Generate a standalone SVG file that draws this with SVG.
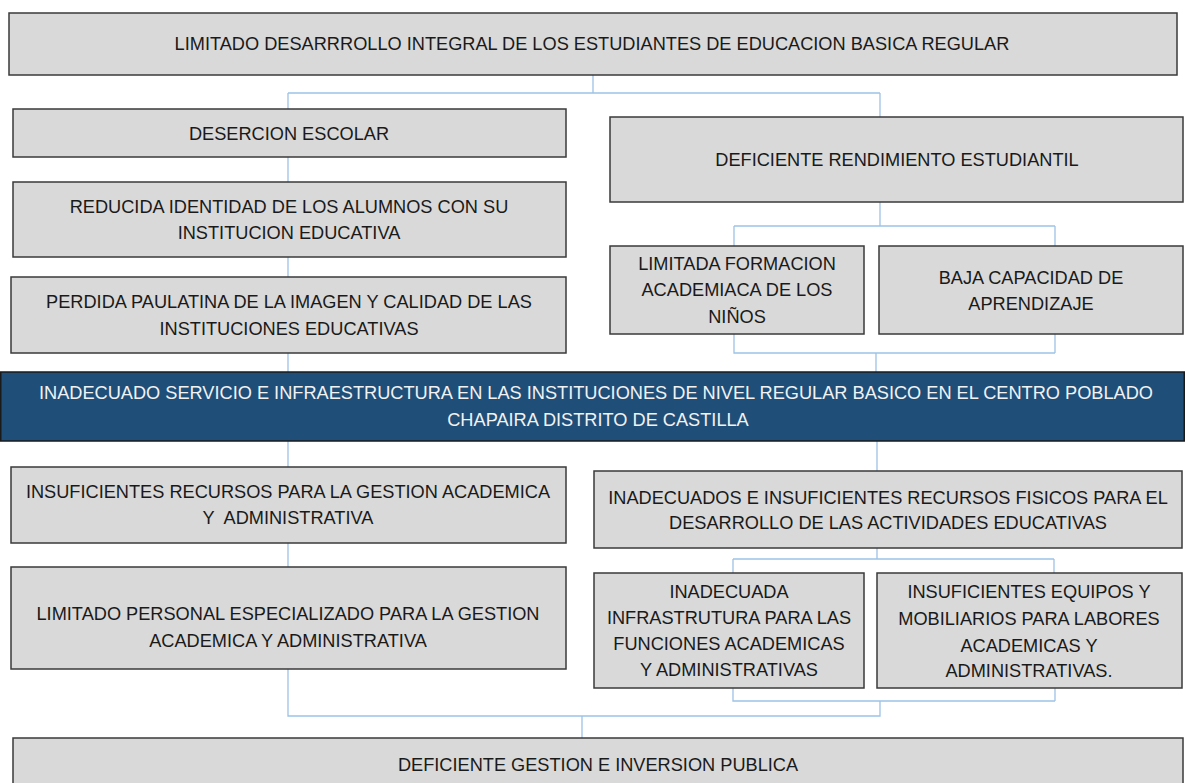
<svg xmlns="http://www.w3.org/2000/svg" width="1185" height="783" viewBox="0 0 1185 783">
<style>
.box{fill:#D9D9D9;stroke:#3A3A3A;stroke-width:1.5}
.main{fill:#1F4E79;stroke:#1A1A1A;stroke-width:1.5}
.t{font-family:"Liberation Sans",Arial,sans-serif;font-size:18.2px;fill:#1A1A1A;text-anchor:middle}
.w{fill:#F2F2F2}
.c{fill:none;stroke:#9DC3E6;stroke-width:1.3}
</style>
<rect width="1185" height="783" fill="#FFFFFF"/>
<g id="connectors" class="c">
<path d="M593 75V93M288 93H880M288 93V109M880 93V117"/>
<path d="M288 157V182M288 257V277M288 353V372"/>
<path d="M880 202V226M734 226H1055M734 226V246M1055 226V246"/>
<path d="M734 334V353H1055M1055 334V353M876 353V372"/>
<path d="M288 441V467M288 543V567M288 669V716H880V701M733 688V701H1055M1055 688V701M582 716V738"/>
<path d="M877 441V471M877 548V559M733 559H1054M733 559V573M1054 559V573"/>
</g>
<g id="n-top"><rect class="box" x="9" y="13" width="1168" height="62"/>
<text class="t" x="592" y="50">LIMITADO DESARRROLLO INTEGRAL DE LOS ESTUDIANTES DE EDUCACION BASICA REGULAR</text></g>
<g id="n-desercion"><rect class="box" x="13" y="109" width="553" height="48"/>
<text class="t" x="289" y="140">DESERCION ESCOLAR</text></g>
<g id="n-reducida"><rect class="box" x="13" y="182" width="553" height="75"/>
<text class="t" x="289" y="213">REDUCIDA IDENTIDAD DE LOS ALUMNOS CON SU</text>
<text class="t" x="289" y="239">INSTITUCION EDUCATIVA</text></g>
<g id="n-perdida"><rect class="box" x="11" y="277" width="555" height="76"/>
<text class="t" x="289" y="308">PERDIDA PAULATINA DE LA IMAGEN Y CALIDAD DE LAS</text>
<text class="t" x="289" y="335">INSTITUCIONES EDUCATIVAS</text></g>
<g id="n-deficiente"><rect class="box" x="610" y="117" width="573" height="85"/>
<text class="t" x="897" y="166">DEFICIENTE RENDIMIENTO ESTUDIANTIL</text></g>
<g id="n-limitada"><rect class="box" x="610" y="246" width="254" height="88"/>
<text class="t" x="737" y="270">LIMITADA FORMACION</text>
<text class="t" x="737" y="296">ACADEMIACA DE LOS</text>
<text class="t" x="737" y="323">NIÑOS</text></g>
<g id="n-baja"><rect class="box" x="879" y="246" width="304" height="88"/>
<text class="t" x="1031" y="284">BAJA CAPACIDAD DE</text>
<text class="t" x="1031" y="310">APRENDIZAJE</text></g>
<g id="n-main"><rect class="main" x="0.75" y="372" width="1183.5" height="69"/>
<text class="t w" x="596" y="399">INADECUADO SERVICIO E INFRAESTRUCTURA EN LAS INSTITUCIONES DE NIVEL REGULAR BASICO EN EL CENTRO POBLADO</text>
<text class="t w" x="598" y="426">CHAPAIRA DISTRITO DE CASTILLA</text></g>
<g id="n-insuf-recursos"><rect class="box" x="11" y="467" width="555" height="76"/>
<text class="t" x="288" y="498">INSUFICIENTES RECURSOS PARA LA GESTION ACADEMICA</text>
<text class="t" x="288" y="524" xml:space="preserve">Y  ADMINISTRATIVA</text></g>
<g id="n-limitado-personal"><rect class="box" x="11" y="567" width="555" height="102"/>
<text class="t" x="288" y="620">LIMITADO PERSONAL ESPECIALIZADO PARA LA GESTION</text>
<text class="t" x="288" y="647">ACADEMICA Y ADMINISTRATIVA</text></g>
<g id="n-inadecuados"><rect class="box" x="594" y="471" width="588" height="77"/>
<text class="t" x="888" y="504">INADECUADOS E INSUFICIENTES RECURSOS FISICOS PARA EL</text>
<text class="t" x="888" y="529">DESARROLLO DE LAS ACTIVIDADES EDUCATIVAS</text></g>
<g id="n-inadecuada"><rect class="box" x="594" y="573" width="270" height="115"/>
<text class="t" x="729" y="598">INADECUADA</text>
<text class="t" x="729" y="624">INFRASTRUTURA PARA LAS</text>
<text class="t" x="729" y="650">FUNCIONES ACADEMICAS</text>
<text class="t" x="729" y="676">Y ADMINISTRATIVAS</text></g>
<g id="n-insuf-equipos"><rect class="box" x="877" y="573" width="305" height="115"/>
<text class="t" x="1029" y="598">INSUFICIENTES EQUIPOS Y</text>
<text class="t" x="1029" y="625">MOBILIARIOS PARA LABORES</text>
<text class="t" x="1029" y="652">ACADEMICAS Y</text>
<text class="t" x="1029" y="677">ADMINISTRATIVAS.</text></g>
<g id="n-bottom"><rect class="box" x="13" y="738" width="1170" height="60"/>
<text class="t" x="598" y="771">DEFICIENTE GESTION E INVERSION PUBLICA</text></g>
</svg>
